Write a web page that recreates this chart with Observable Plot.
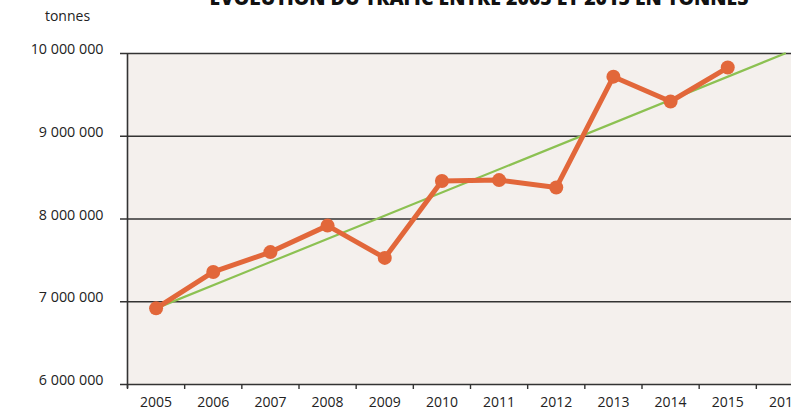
<!DOCTYPE html>
<html>
<head>
<meta charset="utf-8">
<script src="https://cdn.jsdelivr.net/npm/d3@7"></script>
<script src="https://cdn.jsdelivr.net/npm/@observablehq/plot@0.6"></script>
<style>
  html, body { margin: 0; padding: 0; background: #fff; overflow: hidden; width: 791px; height: 410px; }
  #wrap { position: relative; width: 791px; height: 410px; overflow: hidden; }
  #title { position: absolute; left: 179px; width: 600px; top: -12px; text-align: center; font: 800 19.5px "Open Sans", sans-serif; line-height: 19.5px; color: #111; white-space: nowrap; }
  #unit { position: absolute; left: 30px; width: 75px; top: 7px; text-align: center; font: 14px "Open Sans", sans-serif; line-height: 18px; color: #222; }
  #chart { position: absolute; left: 0; top: 0; width: 813px; }
  #chart svg { max-width: none !important; width: 813px !important; height: 410px !important; }
</style>
</head>
<body>
<div id="wrap">
  <div id="chart"></div>
  <div id="title">ÉVOLUTION DU TRAFIC ENTRE 2005 ET 2015 EN TONNES</div>
  <div id="unit">tonnes</div>
</div>
<script>
const years = [2005, 2006, 2007, 2008, 2009, 2010, 2011, 2012, 2013, 2014, 2015];
const tonnage = [6920000, 7360000, 7600000, 7920000, 7530000, 8460000, 8470000, 8380000, 9720000, 9420000, 9830000];
const trendYears = [2005, 2016];
const trendValues = [6920000, 10000000];
const xLabels = [2005, 2006, 2007, 2008, 2009, 2010, 2011, 2012, 2013, 2014, 2015, 2016];
const yTicks = [6000000, 7000000, 8000000, 9000000, 10000000];

const data = years.map((y, i) => ({year: y, value: tonnage[i]}));
const trend = trendYears.map((y, i) => ({year: y, value: trendValues[i]}));
const boundaries = [...xLabels.map(y => y - 0.5), 2016.5];
const fmt = d => d3.format(",")(d).replace(/,/g, " ");

const orange = "#e2673a";
const green = "#8cc152";
const axisColor = "#333";

const chart = Plot.plot({
  width: 813,
  height: 410,
  marginLeft: 127,
  marginRight: 0,
  marginTop: 53,
  marginBottom: 26,
  style: {fontFamily: "'Open Sans', sans-serif", fontSize: "14px", color: "#222", background: "transparent", maxWidth: "none"},
  x: {type: "linear", domain: [2004.5, 2016.5], axis: null, label: null},
  y: {type: "linear", domain: [6000000, 10000000], axis: null, label: null},
  marks: [
    Plot.frame({fill: "#f4f0ed", stroke: null}),
    Plot.ruleY(yTicks, {stroke: axisColor, strokeWidth: 1.4, insetLeft: -7}),
    Plot.ruleX([2004.5], {stroke: axisColor, strokeWidth: 1.6, insetBottom: -4}),
    Plot.axisX(boundaries, {tickSize: 5, stroke: axisColor, strokeWidth: 1.4, tickFormat: () => "", anchor: "bottom", label: null}),
    Plot.axisX(xLabels, {tickSize: 0, tickPadding: 13, tickFormat: d => String(d), anchor: "bottom", fill: "#222", fontSize: 14, label: null}),
    Plot.axisY(yTicks, {tickSize: 0, tickPadding: 24, tickFormat: fmt, anchor: "left", dy: -4, fill: "#222", fontSize: 14.3, label: null}),
    Plot.line(trend, {x: "year", y: "value", stroke: green, strokeWidth: 2.2}),
    Plot.line(data, {x: "year", y: "value", stroke: orange, strokeWidth: 5, strokeLinejoin: "round"}),
    Plot.dot(data, {x: "year", y: "value", r: 7, fill: orange, stroke: null})
  ]
});
document.getElementById("chart").appendChild(chart);
</script>
</body>
</html>
